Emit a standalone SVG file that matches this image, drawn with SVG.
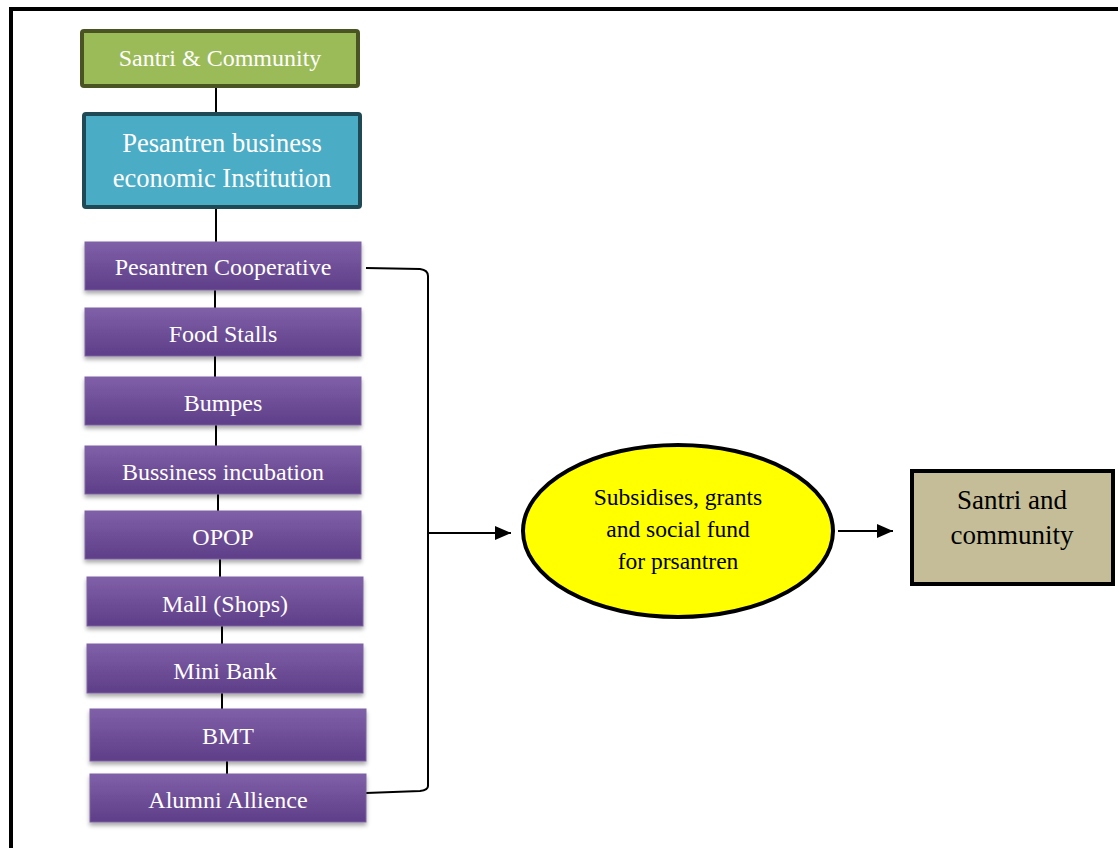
<svg xmlns="http://www.w3.org/2000/svg" width="1118" height="848" viewBox="0 0 1118 848">
<defs>
<linearGradient id="pg" x1="0" y1="0" x2="0" y2="1">
<stop offset="0" stop-color="#8060a8"/>
<stop offset="1" stop-color="#5e3e88"/>
</linearGradient>
<filter id="sh" x="-10%" y="-20%" width="120%" height="150%">
<feDropShadow dx="0" dy="3" stdDeviation="2" flood-color="#000" flood-opacity="0.35"/>
</filter>
<marker id="ah" markerWidth="16" markerHeight="14" refX="16" refY="7" orient="auto" markerUnits="userSpaceOnUse" viewBox="0 0 16 14">
<path d="M0,0 L16,7 L0,14 Z" fill="#000"/>
</marker>
</defs>
<style>
text{font-family:"Liberation Serif","Times New Roman",serif;text-anchor:middle}
.w{fill:#fff}
.b{fill:#000}
.pb{fill:url(#pg);stroke:#7d62a4;stroke-width:1;filter:url(#sh)}
.pt{font-size:24px;fill:#fff}
.ln{stroke:#000;stroke-width:2;fill:none}
</style>
<rect x="0" y="0" width="1118" height="848" fill="#fff"/>
<rect x="11" y="9" width="1120" height="860" fill="none" stroke="#000" stroke-width="4"/>

<g id="connectors">
<line class="ln" x1="216" y1="87" x2="216" y2="113"/>
<line class="ln" x1="216" y1="208" x2="216" y2="242"/>
<line class="ln" x1="215" y1="290" x2="215" y2="308"/>
<line class="ln" x1="215" y1="356" x2="215" y2="377"/>
<line class="ln" x1="216" y1="425" x2="216" y2="446"/>
<line class="ln" x1="218" y1="494" x2="218" y2="511"/>
<line class="ln" x1="220" y1="559" x2="220" y2="577"/>
<line class="ln" x1="222" y1="626" x2="222" y2="644"/>
<line class="ln" x1="222" y1="693" x2="222" y2="709"/>
<line class="ln" x1="227" y1="761" x2="227" y2="774"/>
<path class="ln" d="M366,268 L420,269 Q428,270 428,276 L428,786 Q428,790 420,791 L366,793"/>
<line class="ln" x1="428" y1="533" x2="511" y2="533" marker-end="url(#ah)"/>
<line class="ln" x1="838" y1="531" x2="893" y2="531" marker-end="url(#ah)"/>
</g>

<g id="n-santri-top">
<rect x="82" y="31" width="276" height="55" rx="2" fill="#9bbb59" stroke="#4a5422" stroke-width="4"/>
<text x="220" y="66" class="w" font-size="24">Santri &amp; Community</text>
</g>

<g id="n-institution">
<rect x="84" y="114" width="276" height="93" rx="2" fill="#4bacc6" stroke="#1f4a55" stroke-width="4"/>
<text x="222" y="152" class="w" font-size="26.5">Pesantren business</text>
<text x="222" y="187" class="w" font-size="26.5">economic Institution</text>
</g>

<g id="n-coop"><rect class="pb" x="85" y="242" width="276" height="48"/><text class="pt" x="223" y="275">Pesantren Cooperative</text></g>
<g id="n-food"><rect class="pb" x="85" y="308" width="276" height="48"/><text class="pt" x="223" y="342">Food Stalls</text></g>
<g id="n-bumpes"><rect class="pb" x="85" y="377" width="276" height="48"/><text class="pt" x="223" y="411">Bumpes</text></g>
<g id="n-incub"><rect class="pb" x="85" y="446" width="276" height="48"/><text class="pt" x="223" y="480">Bussiness incubation</text></g>
<g id="n-opop"><rect class="pb" x="85" y="511" width="276" height="48"/><text class="pt" x="223" y="545">OPOP</text></g>
<g id="n-mall"><rect class="pb" x="87" y="577" width="276" height="49"/><text class="pt" x="225" y="612">Mall (Shops)</text></g>
<g id="n-minibank"><rect class="pb" x="87" y="644" width="276" height="49"/><text class="pt" x="225" y="679">Mini Bank</text></g>
<g id="n-bmt"><rect class="pb" x="90" y="709" width="276" height="52"/><text class="pt" x="228" y="744">BMT</text></g>
<g id="n-alumni"><rect class="pb" x="90" y="774" width="276" height="48"/><text class="pt" x="228" y="808">Alumni Allience</text></g>

<g id="n-subsidy">
<ellipse cx="678" cy="531" rx="155" ry="86" fill="#ffff00" stroke="#000" stroke-width="4"/>
<text x="678" y="505" class="b" font-size="23.5">Subsidises, grants</text>
<text x="678" y="537" class="b" font-size="23.5">and social fund</text>
<text x="678" y="569" class="b" font-size="23.5">for prsantren</text>
</g>

<g id="n-santri-right">
<rect x="912" y="471" width="201" height="113" fill="#c4bd97" stroke="#000" stroke-width="4"/>
<text x="1012" y="509" class="b" font-size="27">Santri and</text>
<text x="1012" y="544" class="b" font-size="27">community</text>
</g>
</svg>
